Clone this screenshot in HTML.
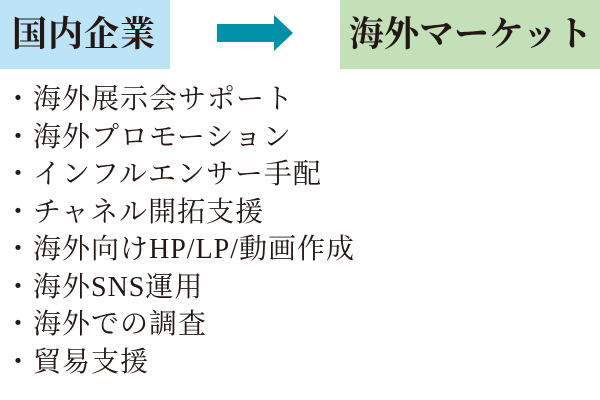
<!DOCTYPE html>
<html><head><meta charset="utf-8"><style>
body{margin:0;width:600px;height:400px;background:#fff;position:relative;overflow:hidden;font-family:"Liberation Serif","Noto Serif CJK SC",serif;color:#231815}
.b{position:absolute;top:0;height:69px}
.t{position:absolute;font-weight:bold;font-size:35px;line-height:36px;top:17px;white-space:nowrap}
.li{position:absolute;left:4px;font-size:28px;line-height:37.5px;white-space:nowrap;letter-spacing:1px}
</style></head><body>
<div class="b" style="left:0;width:170px;background:#bde3f7"></div>
<div class="b" style="left:340px;width:260px;background:#c3e0b9"></div>
<div class="t" style="left:12px;letter-spacing:1px">国内企業</div>
<div class="t" style="left:349px;letter-spacing:0px">海外マーケット</div>
<svg style="position:absolute;left:0;top:0" width="600" height="70"><polygon points="217,24 274,24 274,15 293,33 274,51 274,42 217,42" fill="#0090a7"/></svg>
<div class="li" style="top:81px">・海外展示会サポート</div>
<div class="li" style="top:118.5px">・海外プロモーション</div>
<div class="li" style="top:156px">・インフルエンサー手配</div>
<div class="li" style="top:193.5px">・チャネル開拓支援</div>
<div class="li" style="top:231px">・海外向けHP/LP/動画作成</div>
<div class="li" style="top:268.5px">・海外SNS運用</div>
<div class="li" style="top:306px">・海外での調査</div>
<div class="li" style="top:343.5px">・貿易支援</div>
</body></html>
